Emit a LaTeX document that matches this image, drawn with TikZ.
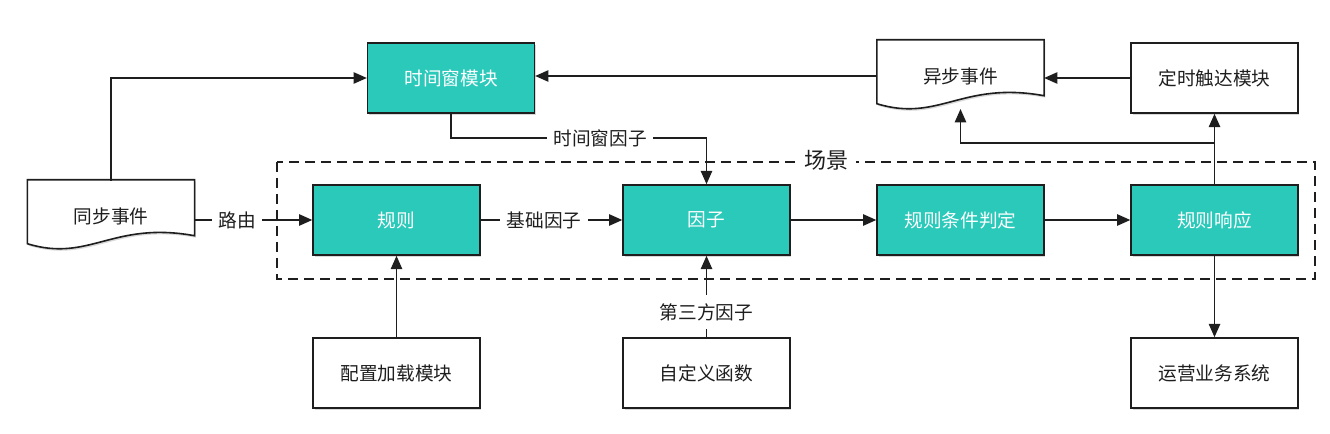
\documentclass[tikz,border=0pt]{standalone}
\usepackage{fontspec}
\newfontfamily\cjk{Noto Sans CJK SC}
\usetikzlibrary{arrows.meta,shadows,calc,backgrounds}
\definecolor{tealc}{RGB}{42,201,186}
\definecolor{inkc}{RGB}{30,30,30}
\begin{document}
\begin{tikzpicture}[x=0.75pt,y=-0.75pt,
  boxbase/.style={draw=inkc, line width=1.2pt, minimum width=125pt, minimum height=52.5pt, inner sep=0pt,
    font=\cjk\fontsize{14}{16}\selectfont},
  tealbox/.style={boxbase, fill=tealc, text=white,
    drop shadow={shadow xshift=1pt, shadow yshift=-1.5pt, opacity=0.3}},
  plainbox/.style={boxbase, fill=white, text=inkc,
    drop shadow={shadow xshift=1pt, shadow yshift=-1.5pt, opacity=0.3}},
  docbox/.style={minimum width=125pt, minimum height=52.5pt, inner sep=0pt, text=inkc,
    font=\cjk\fontsize{14}{16}\selectfont},
  docline/.style={draw=inkc, line width=1.2pt, fill=white,
    drop shadow={shadow xshift=1pt, shadow yshift=-1.5pt, opacity=0.3}},
  lbl/.style={fill=white, inner xsep=5pt, inner ysep=2pt, text=inkc, font=\cjk\fontsize{14}{16}\selectfont},
  arr/.style={draw=inkc, line width=1.3pt, -{Triangle[length=10pt,width=8.5pt]}},
  scene/.style={draw=inkc, line width=1.1pt, dash pattern=on 7.5pt off 4.5pt}
]
\useasboundingbox (0,0) rectangle (1330,434);

% scene frame
\draw[scene] (277,162) rectangle (1315,279);
\node[lbl, font=\cjk\fontsize{16.5}{18}\selectfont, inner xsep=6pt] (scn) at (826,160) {场景};

% nodes
\node[tealbox] (tw) at (451,78) {时间窗模块};
\node[docbox] (async) at (960.5,76) {异步事件};
\node[plainbox] (timer) at (1214.5,78) {定时触达模块};
\node[docbox] (sync) at (111,216) {同步事件};
\node[tealbox] (rule) at (396.5,220) {规则};
\node[tealbox] (factor) at (706.5,220) {因子};
\node[tealbox] (judge) at (960.5,220) {规则条件判定};
\node[tealbox] (resp) at (1214.5,220) {规则响应};
\node[plainbox] (cfg) at (396.5,373) {配置加载模块};
\node[plainbox] (func) at (706.5,373) {自定义函数};
\node[plainbox] (ops) at (1214.5,373) {运营业务系统};

\begin{scope}[on background layer]
\foreach \n in {async,sync}{
  \draw[docline] ($(\n.north west)+(0,-1)$) -- ($(\n.north east)+(0,-1)$) -- ($(\n.north east)+(0,55)$)
    .. controls ($(\n.north west)+(85,40)$) and ($(\n.north west)+(62,82)$) .. ($(\n.north west)+(0,63)$) -- cycle;
}
\end{scope}

% connectors
\draw[arr] (sync.north) |- (tw.west);
\draw[arr] (async.west) -- (tw.east |- async.west);
\draw[arr] (timer.west) -- (async.east |- timer.west);
\draw[arr] (resp.north) -- (timer.south);
\coordinate (br) at (1214.5,143);
\coordinate (asb) at (960.5,109);
\draw[arr] (br) -| (asb);

\coordinate (twk) at (706.5,138);
\draw[arr] (tw.south) |- (twk) -- (factor.north);
\node[lbl] (l1) at (600,138) {时间窗因子};

\draw[arr] (sync.east |- rule.west) -- (rule.west);
\node[lbl] (l2) at (237,220) {路由};
\draw[arr] (rule.east) -- (factor.west);
\node[lbl] (l3) at (544,220) {基础因子};
\draw[arr] (factor.east) -- (judge.west);
\draw[arr] (judge.east) -- (resp.west);
\draw[arr] (cfg.north) -- (rule.south);
\draw[arr] (func.north) -- (factor.south);
\node[lbl, inner ysep=6pt] (l4) at (706.5,312) {第三方因子};
\draw[arr] (resp.south) -- (ops.north);
\end{tikzpicture}
\end{document}
